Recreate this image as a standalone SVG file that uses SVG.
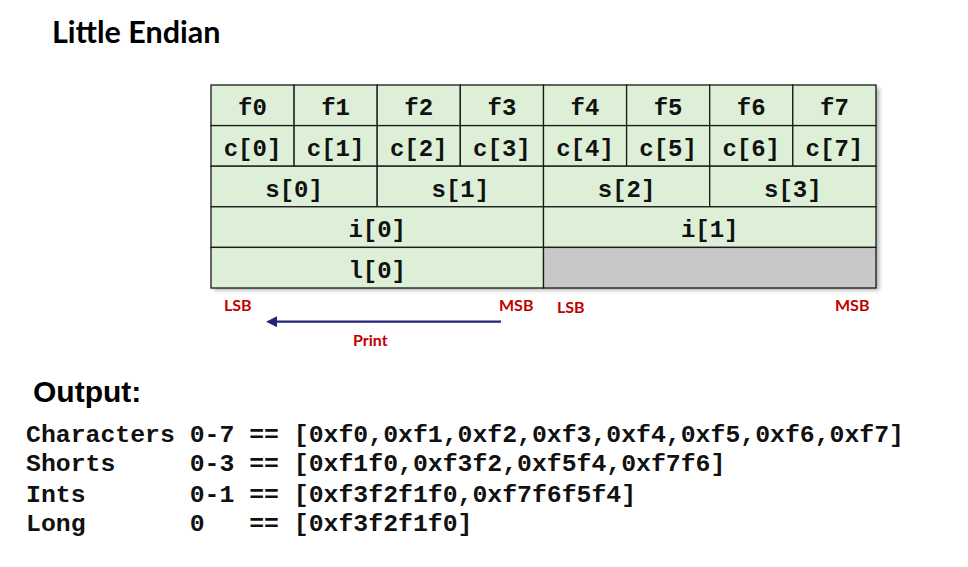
<svg xmlns="http://www.w3.org/2000/svg" width="968" height="567" viewBox="0 0 968 567">
<defs>
<style>
.cell{fill:#DDF0D7;stroke:#1a1a1a;stroke-width:1.3}
.gray{fill:#C8C8C8;stroke:#1a1a1a;stroke-width:1.3}
.mono{font-family:"Liberation Mono","Courier New",monospace;font-weight:bold;fill:#111}
.cellt{font-size:24px;text-anchor:middle}
.out{font-size:24.8px;white-space:pre}
.lbl{font-family:Lato,"Open Sans",sans-serif;font-weight:bold;fill:#C00000;font-size:16px}
.head{font-family:Lato,"Open Sans",sans-serif;font-weight:bold;fill:#000}
</style>
<filter id="sh" x="-5%" y="-5%" width="115%" height="120%">
<feGaussianBlur stdDeviation="2"/>
</filter>
<marker id="ah" viewBox="0 0 10 10" refX="1" refY="5" markerWidth="5" markerHeight="5" orient="auto-start-reverse">
<path d="M0,0 L10,5 L0,10 z" fill="#232378"/>
</marker>
</defs>
<rect width="968" height="567" fill="#fff"/>
<text id="title" class="head" x="52" y="42.5" font-size="30.5">Little Endian</text>

<rect x="214" y="88" width="665" height="202" fill="#888" filter="url(#sh)" opacity="0.7"/>

<g id="row-f">
<rect class="cell" x="211" y="85" width="83.1" height="40.6"/>
<rect class="cell" x="294.1" y="85" width="83.1" height="40.6"/>
<rect class="cell" x="377.2" y="85" width="83.1" height="40.6"/>
<rect class="cell" x="460.3" y="85" width="83.2" height="40.6"/>
<rect class="cell" x="543.5" y="85" width="83.1" height="40.6"/>
<rect class="cell" x="626.6" y="85" width="83.1" height="40.6"/>
<rect class="cell" x="709.7" y="85" width="83.1" height="40.6"/>
<rect class="cell" x="792.8" y="85" width="83.2" height="40.6"/>
<text class="mono cellt" x="252.5" y="115">f0</text>
<text class="mono cellt" x="335.6" y="115">f1</text>
<text class="mono cellt" x="418.7" y="115">f2</text>
<text class="mono cellt" x="501.9" y="115">f3</text>
<text class="mono cellt" x="585" y="115">f4</text>
<text class="mono cellt" x="668.1" y="115">f5</text>
<text class="mono cellt" x="751.2" y="115">f6</text>
<text class="mono cellt" x="834.4" y="115">f7</text>
</g>

<g id="row-c">
<rect class="cell" x="211" y="125.6" width="83.1" height="40.6"/>
<rect class="cell" x="294.1" y="125.6" width="83.1" height="40.6"/>
<rect class="cell" x="377.2" y="125.6" width="83.1" height="40.6"/>
<rect class="cell" x="460.3" y="125.6" width="83.2" height="40.6"/>
<rect class="cell" x="543.5" y="125.6" width="83.1" height="40.6"/>
<rect class="cell" x="626.6" y="125.6" width="83.1" height="40.6"/>
<rect class="cell" x="709.7" y="125.6" width="83.1" height="40.6"/>
<rect class="cell" x="792.8" y="125.6" width="83.2" height="40.6"/>
<text class="mono cellt" x="252.5" y="156">c[0]</text>
<text class="mono cellt" x="335.6" y="156">c[1]</text>
<text class="mono cellt" x="418.7" y="156">c[2]</text>
<text class="mono cellt" x="501.9" y="156">c[3]</text>
<text class="mono cellt" x="585" y="156">c[4]</text>
<text class="mono cellt" x="668.1" y="156">c[5]</text>
<text class="mono cellt" x="751.2" y="156">c[6]</text>
<text class="mono cellt" x="834.4" y="156">c[7]</text>
</g>

<g id="row-s">
<rect class="cell" x="211" y="166.2" width="166.2" height="40.6"/>
<rect class="cell" x="377.2" y="166.2" width="166.3" height="40.6"/>
<rect class="cell" x="543.5" y="166.2" width="166.2" height="40.6"/>
<rect class="cell" x="709.7" y="166.2" width="166.3" height="40.6"/>
<text class="mono cellt" x="294.1" y="196.5">s[0]</text>
<text class="mono cellt" x="460.3" y="196.5">s[1]</text>
<text class="mono cellt" x="626.6" y="196.5">s[2]</text>
<text class="mono cellt" x="792.8" y="196.5">s[3]</text>
</g>

<g id="row-i">
<rect class="cell" x="211" y="206.8" width="332.5" height="40.6"/>
<rect class="cell" x="543.5" y="206.8" width="332.5" height="40.6"/>
<text class="mono cellt" x="377.2" y="237">i[0]</text>
<text class="mono cellt" x="709.7" y="237">i[1]</text>
</g>

<g id="row-l">
<rect class="cell" x="211" y="247.4" width="332.5" height="40.6"/>
<rect class="gray" x="543.5" y="247.4" width="332.5" height="40.6"/>
<text class="mono cellt" x="377.2" y="277.5">l[0]</text>
</g>

<g id="labels">
<text class="lbl" x="224" y="310.5">LSB</text>
<text class="lbl" x="499" y="311">MSB</text>
<text class="lbl" x="557" y="313">LSB</text>
<text class="lbl" x="835" y="310.5">MSB</text>
<text class="lbl" x="353" y="345.5">Print</text>
</g>

<g id="connectors">
<line x1="501" y1="321.7" x2="276" y2="321.7" stroke="#232378" stroke-width="2.2" marker-end="url(#ah)"/>
</g>

<text id="output-title" x="33" y="402" font-family="'Liberation Sans',Arial,sans-serif" font-weight="bold" font-size="30" fill="#000">Output:</text>

<g id="output" class="mono out">
<text x="26" y="441.7" xml:space="preserve">Characters 0-7 == [0xf0,0xf1,0xf2,0xf3,0xf4,0xf5,0xf6,0xf7]</text>
<text x="26" y="470.7" xml:space="preserve">Shorts     0-3 == [0xf1f0,0xf3f2,0xf5f4,0xf7f6]</text>
<text x="26" y="501.7" xml:space="preserve">Ints       0-1 == [0xf3f2f1f0,0xf7f6f5f4]</text>
<text x="26" y="530.7" xml:space="preserve">Long       0   == [0xf3f2f1f0]</text>
</g>
</svg>
